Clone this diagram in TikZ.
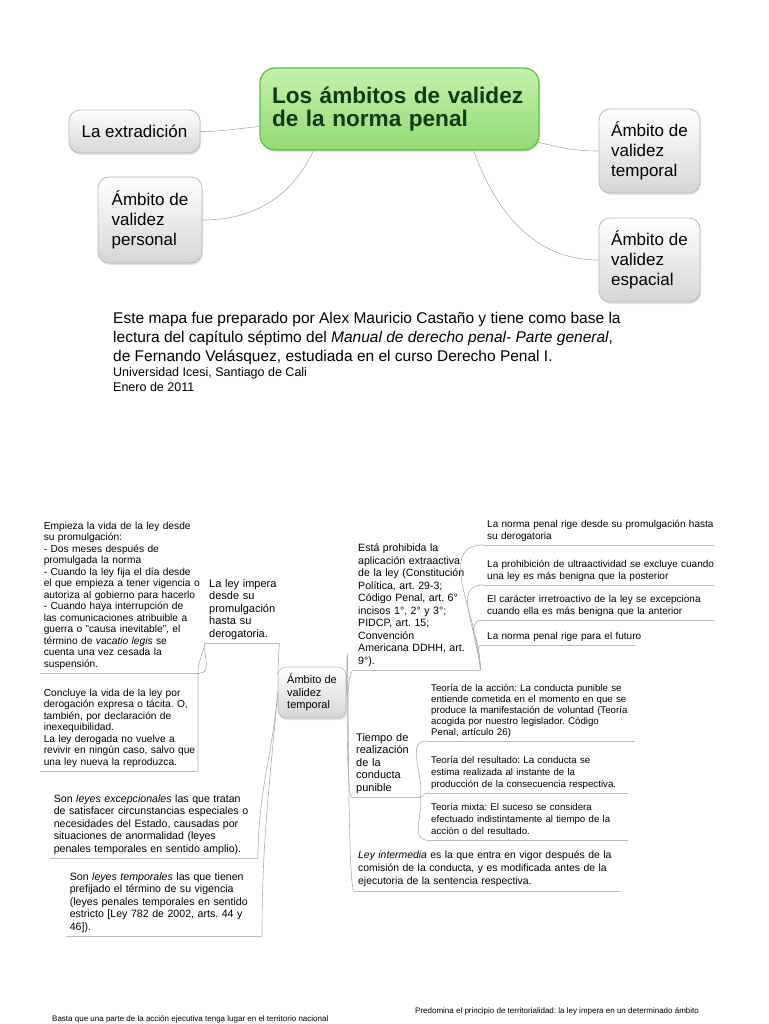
\documentclass[tikz,border=0pt]{standalone}
\usepackage{fontspec}
\setmainfont{Liberation Sans}
\usetikzlibrary{positioning,shadows}
\frenchspacing
\definecolor{linkGray}{HTML}{ADADAD}
\definecolor{boxLine}{HTML}{B9B9B9}
\definecolor{boxBottom}{HTML}{D6D6D6}
\definecolor{titleLine}{HTML}{62B947}
\definecolor{titleTop}{HTML}{C4F1AC}
\definecolor{titleBottom}{HTML}{93DB73}
\definecolor{titleText}{HTML}{103A13}
\newcommand{\mapTitle}{\fontsize{22.6}{23.5}\selectfont\bfseries}
\newcommand{\mapBig}{\fontsize{17}{20}\selectfont}
\newcommand{\mapCap}{\fontsize{15.5}{19}\selectfont}
\newcommand{\mapCapSmall}{\fontsize{12.5}{15}\selectfont}
\newcommand{\mapMid}{\fontsize{10.6}{12.5}\selectfont}
\newcommand{\mapSmall}{\fontsize{10.2}{11.5}\selectfont}
\newcommand{\mapTiny}{\fontsize{8}{9.5}\selectfont}
% lineas fijas, sin cortes automaticos
\newcommand{\leafLines}[1]{\begin{tabular}{@{}l@{}}#1\end{tabular}}
\begin{document}
\begin{tikzpicture}[x=1pt, y=-1pt,
  topic/.style={draw=boxLine, line width=0.8pt, rounded corners=11pt,
    top color=white, bottom color=boxBottom, align=left, font=\mapBig,
    drop shadow={shadow xshift=1pt, shadow yshift=-2pt, opacity=0.2}},
  mainTopic/.style={topic, draw=titleLine, line width=1.2pt, rounded corners=15pt,
    top color=titleTop, bottom color=titleBottom, text=titleText, font=\mapTitle},
  subTopic/.style={topic, rounded corners=8pt, font=\fontsize{11}{12.5}\selectfont, line width=0.6pt},
  leaf/.style={anchor=south west, align=left, inner xsep=4pt, inner ysep=2pt},
  leafEast/.style={leaf, anchor=south east},
  link/.style={draw=linkGray, line width=0.6pt},
  uline/.style={draw=linkGray!80, line width=0.6pt}]
\path[use as bounding box] (0,0) rectangle (768,1024);

% Primer mapa
\node[mainTopic, text width=255pt, inner xsep=12pt, minimum height=82pt] (main) at (399.5,109) {Los ámbitos de validez\\de la norma penal};
\node[topic, minimum width=131pt, minimum height=43pt] (ext) at (134.5,131.5) {La extradición};
\node[topic, minimum width=104pt, minimum height=86pt] (per) at (150,220) {Ámbito de\\validez\\personal};
\node[topic, minimum width=101pt, minimum height=84pt] (tmpT) at (649.5,151) {Ámbito de\\validez\\temporal};
\node[topic, minimum width=101pt, minimum height=84pt] (esp) at (649.5,260) {Ámbito de\\validez\\espacial};

\draw[link] (ext.east) to[out=0,in=185] ([yshift=24pt]main.south west);
\draw[link] (per.east) to[out=0,in=-115] ([xshift=54pt]main.south west);
\draw[link] ([xshift=-7pt,yshift=10pt]main.south east) to[out=-15,in=180] (tmpT.west);
\draw[link] ([xshift=-66pt]main.south east) to[out=-70,in=180] (esp.west);

% Nota
\node[anchor=north west, align=left, font=\mapCap, inner sep=0pt] (cap1) at (113,312)
  {Este mapa fue preparado por Alex Mauricio Castaño y tiene como base la\\
   lectura del capítulo séptimo del \textit{Manual de derecho penal- Parte general},\\
   de Fernando Velásquez, estudiada en el curso Derecho Penal I.};
\node[below=2pt of cap1.south west, anchor=north west, align=left, font=\mapCapSmall, inner sep=0pt] (cap2)
  {Universidad Icesi, Santiago de Cali\\Enero de 2011};

% Segundo mapa: ambito temporal
\node[subTopic, minimum width=68pt, minimum height=51pt] (tmp) at (312,692.5) {Ámbito de\\validez\\temporal};

% izquierda
\node[leaf, text width=66pt, font=\fontsize{11}{12.5}\selectfont] (imp) at (205,643)
  {\leafLines{La ley impera\\desde su\\promulgación\\hasta su\\derogatoria.}};
\node[leafEast, text width=152pt, font=\mapSmall] (emp) at (200,673)
  {\leafLines{Empieza la vida de la ley desde\\su promulgación:\\- Dos meses después de\\promulgada la norma\\
   - Cuando la ley fija el día desde\\el que empieza a tener vigencia o\\autoriza al gobierno para hacerlo\\
   - Cuando haya interrupción de\\las comunicaciones atribuible a\\guerra o "causa inevitable", el\\
   término de \textit{vacatio legis} se\\cuenta una vez cesada la\\suspensión.}};
\node[leafEast, text width=150pt, font=\mapSmall] (con) at (198,771)
  {\leafLines{Concluye la vida de la ley por\\derogación expresa o tácita. O,\\también, por declaración de\\
   inexequibilidad.\\La ley derogada no vuelve a\\revivir en ningún caso, salvo que\\una ley nueva la reproduzca.}};
\node[leafEast, text width=200pt, font=\mapMid] (exc) at (258,858)
  {\leafLines{Son \textit{leyes excepcionales} las que tratan\\de satisfacer circunstancias especiales o\\
   necesidades del Estado, causadas por\\situaciones de anormalidad (leyes\\penales temporales en sentido amplio).}};
\node[leafEast, text width=188pt, font=\mapMid] (tem) at (262,936)
  {\leafLines{Son \textit{leyes temporales} las que tienen\\prefijado el término de su vigencia\\
   (leyes penales temporales en sentido\\estricto [Ley 782 de 2002, arts. 44 y\\46]).}};

% derecha
\node[leaf, text width=118pt, font=\mapMid] (pro) at (354,670)
  {\leafLines{Está prohibida la\\aplicación extraactiva\\de la ley (Constitución\\Política, art. 29-3;\\
   Código Penal, art. 6°\\incisos 1°, 2° y 3°;\\PIDCP, art. 15;\\Convención\\Americana DDHH, art.\\9°).}};
\node[leaf, text width=223pt, font=\fontsize{10}{12}\selectfont] (r1) at (483,545)
  {\leafLines{La norma penal rige desde su promulgación hasta\\su derogatoria}};
\node[leaf, text width=223pt, font=\fontsize{10}{12}\selectfont] (r2) at (483,585)
  {\leafLines{La prohibición de ultraactividad se excluye cuando\\una ley es más benigna que la posterior}};
\node[leaf, text width=223pt, font=\fontsize{10}{12}\selectfont] (r3) at (483,620)
  {\leafLines{El carácter irretroactivo de la ley se excepciona\\cuando ella es más benigna que la anterior}};
\node[leaf, text width=145pt, font=\fontsize{10}{12}\selectfont] (r4) at (483,645)
  {\leafLines{La norma penal rige para el futuro}};
\node[leaf, text width=60pt, font=\fontsize{11}{12.5}\selectfont] (tie) at (352,797)
  {\leafLines{Tiempo de\\realización\\de la\\conducta\\punible}};
\node[leaf, text width=200pt, font=\fontsize{9.7}{11}\selectfont] (ta) at (427,741)
  {\leafLines{Teoría de la acción: La conducta punible se\\entiende cometida en el momento en que se\\
   produce la manifestación de voluntad (Teoría\\acogida por nuestro legislador. Código\\Penal, artículo 26)}};
\node[leaf, text width=193pt, font=\fontsize{9.7}{12}\selectfont] (tr) at (427,793)
  {\leafLines{Teoría del resultado: La conducta se\\estima realizada al instante de la\\producción de la consecuencia respectiva.}};
\node[leaf, text width=193pt, font=\fontsize{9.7}{12}\selectfont] (tm) at (427,840)
  {\leafLines{Teoría mixta: El suceso se considera\\efectuado indistintamente al tiempo de la\\acción o del resultado.}};
\node[leaf, text width=258pt, font=\fontsize{10.4}{13}\selectfont] (ley) at (354,891)
  {\leafLines{\textit{Ley intermedia} es la que entra en vigor después de la\\comisión de la conducta, y es modificada antes de la\\
   ejecutoria de la sentencia respectiva.}};

% Subrayados
\foreach \n in {imp,emp,con,exc,tem,pro,r1,r2,r3,r4,tie,ta,tr,tm,ley}
  \draw[uline] (\n.south west) -- (\n.south east);

% Conectores
\draw[link] (imp.south east) -- ([yshift=-7pt]tmp.north west);
\draw[link] (imp.south west) to[out=-100,in=0] (emp.south east);
\draw[link] (imp.south west) to[out=-100,in=90] (con.south east |- emp.south east) -- (con.south east);
\draw[link] (tmp.west) to[out=-95,in=90] (exc.south east);
\draw[link] (tmp.west) to[out=-95,in=90] (tem.south east);
\draw[link] (tmp.east) .. controls +(3,12) and +(-7,0) .. (pro.south west);
\draw[link] (tmp.east) .. controls +(3,-75) and +(-8,0) .. (tie.south west);
\draw[link] (tmp.east) .. controls +(3,-150) and +(-8,0) .. (ley.south west);
\foreach \r in {r1,r2,r3,r4}
  \draw[link] (pro.south east) to[out=90,in=180] (\r.south west);
\draw[link] (tie.south east) to[out=80,in=180] (ta.south west);
\draw[link] (tie.south east) to[out=0,in=180] (tr.south west);
\draw[link] (tie.south east) to[out=-80,in=180] (tm.south west);

% Pagina siguiente (cortada)
\node[anchor=west, font=\mapTiny, inner sep=0pt] (pre) at (415,1011)
  {Predomina el principio de territorialidad: la ley impera en un determinado ámbito};
\node[anchor=west, font=\mapTiny, inner sep=0pt] (bas) at (52,1019)
  {Basta que una parte de la acción ejecutiva tenga lugar en el territorio nacional};
\end{tikzpicture}
\end{document}
